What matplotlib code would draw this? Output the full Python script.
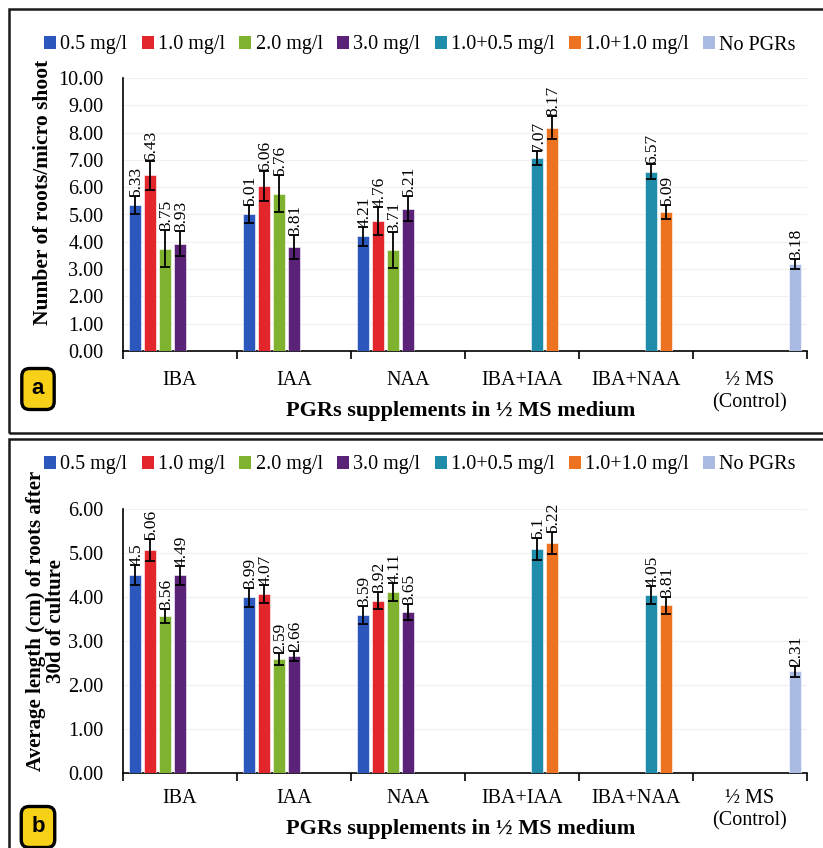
import matplotlib
matplotlib.use("Agg")
import matplotlib.pyplot as plt
from matplotlib.patches import Rectangle, Patch
import numpy as np

plt.rcParams['font.family'] = ['Liberation Serif', 'DejaVu Serif']

categories = ["IBA", "IAA", "NAA", "IBA+IAA", "IBA+NAA", "½ MS\n(Control)"]
series_names = ["0.5 mg/l", "1.0 mg/l", "2.0 mg/l", "3.0 mg/l",
                "1.0+0.5 mg/l", "1.0+1.0 mg/l", "No PGRs"]
colors = ["#2C57BD", "#E3262B", "#7EB22F", "#5A2378",
          "#1F8CAA", "#EE7320", "#A9BBE3"]

# Number of roots per micro shoot (None = treatment not applied in that group)
roots_number = [
    [5.33, 5.01, 4.21, None, None, None],
    [6.43, 6.06, 4.76, None, None, None],
    [3.75, 5.76, 3.71, None, None, None],
    [3.93, 3.81, 5.21, None, None, None],
    [None, None, None, 7.07, 6.57, None],
    [None, None, None, 8.17, 5.09, None],
    [None, None, None, None, None, 3.18],
]
roots_number_err = [
    [0.33, 0.33, 0.35, None, None, None],
    [0.53, 0.55, 0.50, None, None, None],
    [0.67, 0.68, 0.66, None, None, None],
    [0.45, 0.44, 0.45, None, None, None],
    [None, None, None, 0.27, 0.27, None],
    [None, None, None, 0.42, 0.26, None],
    [None, None, None, None, None, 0.18],
]

# Average root length (cm) after 30 days of culture
roots_length = [
    [4.5, 3.99, 3.59, None, None, None],
    [5.06, 4.07, 3.92, None, None, None],
    [3.56, 2.59, 4.11, None, None, None],
    [4.49, 2.66, 3.65, None, None, None],
    [None, None, None, 5.1, 4.05, None],
    [None, None, None, 5.22, 3.81, None],
    [None, None, None, None, None, 2.31],
]
roots_length_err = [
    [0.23, 0.22, 0.20, None, None, None],
    [0.25, 0.21, 0.20, None, None, None],
    [0.16, 0.14, 0.20, None, None, None],
    [0.22, 0.12, 0.18, None, None, None],
    [None, None, None, 0.25, 0.20, None],
    [None, None, None, 0.25, 0.19, None],
    [None, None, None, None, None, 0.12],
]

W, H = 823, 848
fig = plt.figure(figsize=(W / 100, H / 100), dpi=100)


def fx(px):
    return px / W


def fy(py):
    return 1 - py / H


slot = 0.1316
bar_w = 0.10


def draw_panel(ax, values, errors, ymax, cat_offset_px):
    x = np.arange(len(categories))
    for i, (vals, errs) in enumerate(zip(values, errors)):
        for g, (v, e) in enumerate(zip(vals, errs)):
            if v is None:
                continue
            xp = x[g] + (i - 3) * slot
            ax.bar(xp, v, width=bar_w, color=colors[i], edgecolor="white",
                   linewidth=0.4, zorder=3)
            ax.errorbar(xp, v, yerr=e, fmt="none", ecolor="black",
                        elinewidth=1.3, capsize=3.5, capthick=1.3, zorder=4)
            ax.annotate(f"{v:g}", (xp, v + e), xytext=(1, 0),
                        textcoords="offset points", rotation=90,
                        ha="center", va="bottom", fontsize=12.5, zorder=5)
    ax.set_xlim(-0.5, len(categories) - 0.5)
    ax.set_ylim(0, ymax)
    yt = np.arange(0, ymax + 0.01, 1.0)
    ax.set_yticks(yt)
    ax.set_yticklabels([f"{t:.2f}" for t in yt], fontsize=14.5)
    ax.tick_params(axis="y", length=0, pad=14)
    ax.set_xticks(x)
    ax.set_xticklabels([])
    ax.set_xticks(np.arange(-0.5, len(categories), 1.0), minor=True)
    ax.tick_params(axis="x", which="major", length=0)
    ax.tick_params(axis="x", which="minor", length=6, width=1.2, direction="out")
    ax.grid(axis="y", color="#F0F0F0", linewidth=0.9, zorder=0)
    for s in ["top", "right"]:
        ax.spines[s].set_visible(False)
    ax.spines["left"].set_linewidth(1.2)
    ax.spines["bottom"].set_linewidth(1.2)
    # category names under each group
    off = -cat_offset_px / (ax.get_position().height * H)
    for g, c in enumerate(categories):
        ax.text(g, off, c, transform=ax.get_xaxis_transform(), ha="center",
                va="top", fontsize=14.5, linespacing=1.2)


# ---- panel (a): number of roots ----
ax_a = fig.add_axes([fx(123), fy(351), fx(807) - fx(123), fy(78) - fy(351)])
draw_panel(ax_a, roots_number, roots_number_err, 10, 20)
# ---- panel (b): root length ----
ax_b = fig.add_axes([fx(123), fy(773), fx(807) - fx(123), fy(509) - fy(773)])
draw_panel(ax_b, roots_length, roots_length_err, 6, 16)

# axis titles
for yc in [411, 829]:
    fig.text(fx(461), fy(yc), "PGRs supplements in ½ MS medium", ha="center",
             va="center", fontsize=16, fontweight="bold")
fig.text(fx(43), fy(192), "Number of roots/micro shoot", rotation=90,
         ha="center", va="center", fontsize=15.5, fontweight="bold")
fig.text(fx(46), fy(621), "Average length (cm) of roots after\n30d of culture",
         rotation=90, ha="center", va="center", fontsize=15,
         fontweight="bold", linespacing=0.95)

# legends
handles = [Patch(facecolor=c, edgecolor="none") for c in colors]
for yl in [45, 465]:
    fig.legend(handles, series_names, loc="center", bbox_to_anchor=(fx(420), fy(yl)),
               ncol=7, frameon=False, fontsize=14.5, handlelength=0.6,
               handleheight=0.6, handletextpad=0.2, columnspacing=0.72,
               borderaxespad=0)

# panel frames
fig.add_artist(Rectangle((fx(9), fy(433)), 1.0, fy(9) - fy(433),
                         transform=fig.transFigure, fill=False,
                         edgecolor="#1a1a1a", linewidth=1.8))
fig.add_artist(Rectangle((fx(9), fy(860)), 1.0, fy(439) - fy(860),
                         transform=fig.transFigure, fill=False,
                         edgecolor="#1a1a1a", linewidth=1.8))

# panel letters
for letter, yc in [("a", 389), ("b", 827)]:
    fig.text(fx(38), fy(yc), letter, ha="center", va="center", fontsize=16,
             fontweight="bold", family=["Liberation Sans", "DejaVu Sans"],
             bbox=dict(boxstyle="round,pad=0.45,rounding_size=0.35",
                       facecolor="#F7D117", edgecolor="black", linewidth=2.4))

fig.savefig("out.png", dpi=100)
